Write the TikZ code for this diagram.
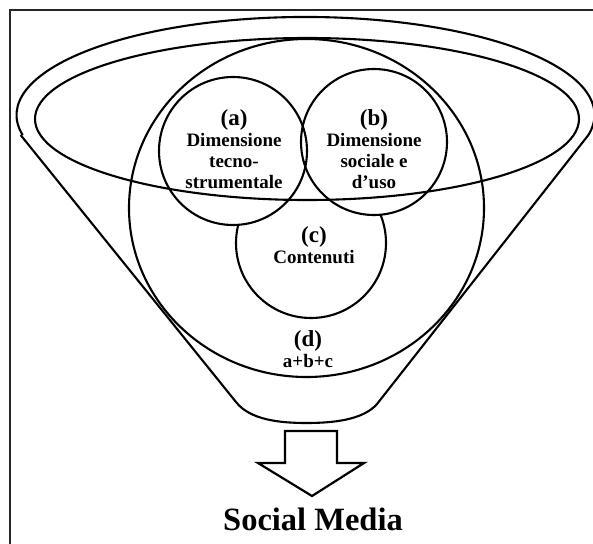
\documentclass[tikz,border=0pt]{standalone}
\usepackage{fontspec}
\setmainfont{Liberation Serif}
\usetikzlibrary{shapes.geometric}

\begin{document}
\begin{tikzpicture}
  [x=1pt, y=-1pt, line width=2.1pt,
   every node/.style={font=\fontsize{19}{21}\selectfont\bfseries, align=center, inner sep=0pt},
   dim/.style={circle, draw, minimum size=148pt},
   big/.style={font=\fontsize{23}{23}\selectfont\bfseries}]
  \useasboundingbox (0,0) rectangle (593,543);
  \clip (0,0) rectangle (593,543);
  % frame
  \draw[line width=1.6pt, black!85] (10,10) rectangle (620,570);
  % funnel
  \coordinate (rimL) at (20.6,135);
  \coordinate (rimR) at (588.4,135);
  \draw (rimL) -- (236,402) .. controls (250,420) and (280,423) .. (306.5,423)
        .. controls (333,423) and (363,420) .. (377,404) -- (rimR)
        arc[start angle=11.8, end angle=-191.8, x radius=289, y radius=98];
  \node[draw, ellipse, minimum width=355pt, minimum height=338pt] (cd) at (306.5,208) {};
  \node[dim, minimum size=150pt] (cc) at (311,243) {};
  \fill[white] (233,151) circle (74) (374,142) circle (73);
  \node[dim] (ca) at (233,151) {};
  \node[dim, minimum size=146pt] (cb) at (374,142) {};
  \draw (307,119) ellipse [x radius=272, y radius=81];
  % labels
  \node (la) at (234,149) {{\fontsize{23}{23}\selectfont (a)}\\ Dimensione\\ tecno-\\ strumentale};
  \node (lb) at (374,149) {{\fontsize{23}{23}\selectfont (b)}\\ Dimensione\\ sociale e\\ d’uso};
  \node (lc) at (314,245) {{\fontsize{23}{23}\selectfont (c)}\\ Contenuti};
  \node (ld) at (308,349) {{\fontsize{23}{23}\selectfont (d)}\\ a+b+c};
  % output
  \draw[line width=2.2pt] (285,431) -- (337,431) -- (337,463) -- (364,463) -- (312,496)
        -- (258,463) -- (285,463) -- cycle;
  \node[font=\fontsize{32.5}{34}\selectfont\bfseries, anchor=base] (sm) at (313,530) {Social Media};
\end{tikzpicture}
\end{document}
